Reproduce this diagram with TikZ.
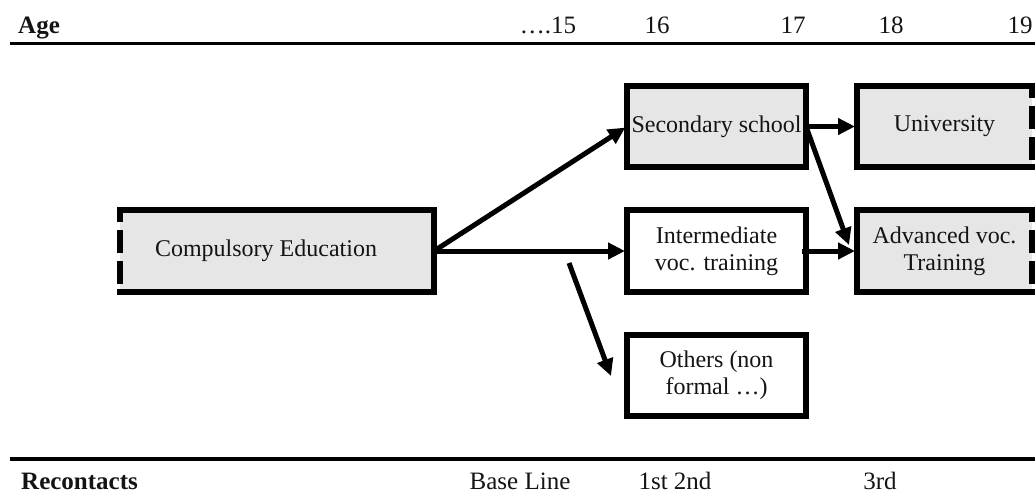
\documentclass[tikz,border=0pt]{standalone}
\usepackage{fontspec}
\setmainfont{Liberation Serif}
\usetikzlibrary{arrows.meta}
\definecolor{boxgray}{HTML}{E6E6E6}
\definecolor{ink}{HTML}{141414}
\begin{document}
\begin{tikzpicture}[x=1pt,y=-1pt,
  box/.style={rectangle, draw=none, inner sep=0pt, outer sep=0pt, align=center,
    font=\fontsize{24}{27}\selectfont, text=ink},
  graybox/.style={box, fill=boxgray},
  whitebox/.style={box, fill=white},
  solidside/.style={line width=6pt, line cap=rect, line join=miter},
  dashside/.style={line width=6pt, dash pattern=on 23pt off 8pt, dash phase=11pt},
  conn/.style={line width=5pt, -{Triangle[length=17pt,width=16pt]}},
  rulebar/.style={line width=3.5pt},
  hdr/.style={inner sep=0pt, font=\fontsize{25}{30}\selectfont, text=ink},
  hdrbold/.style={hdr, font=\fontsize{25}{30}\selectfont\bfseries},
]
\useasboundingbox[fill=white] (0,0) rectangle (1035,493);

% header / footer
\coordinate (topL) at (10,43.5);
\coordinate (topR) at (1035,43.5);
\coordinate (botL) at (10,459);
\coordinate (botR) at (1035,459);
\draw[rulebar] (topL) -- (topR);
\draw[rulebar] (botL) -- (botR);

\node[hdrbold, anchor=base west] (age) at (18,33) {Age};
\node[hdr, anchor=base] (a15) at (548,33) {….15};
\node[hdr, anchor=base] (a16) at (657,33) {16};
\node[hdr, anchor=base] (a17) at (793,33) {17};
\node[hdr, anchor=base] (a18) at (891,33) {18};
\node[hdr, anchor=base] (a19) at (1020,33) {19};

\node[hdrbold, anchor=base west] (recon) at (21,489) {Recontacts};
\node[hdr, anchor=base] (base) at (520,489) {Base Line};
\node[hdr, anchor=base] (r12) at (675,489) {1st 2nd};
\node[hdr, anchor=base] (r3) at (880,489) {3rd};

% boxes
\node[graybox, minimum width=314pt, minimum height=82pt] (comp) at (277,251)
  {\hspace*{-22pt}Compulsory Education};
\node[graybox, minimum width=179pt, minimum height=81pt] (sec) at (716.5,126.5)
  {Secondary school};
\node[graybox, minimum width=175pt, minimum height=81pt] (uni) at (944.5,126.5)
  {University};
\node[whitebox, minimum width=179pt, minimum height=82pt] (inter) at (716.5,251)
  {Intermediate\\voc. training};
\node[graybox, minimum width=175pt, minimum height=82pt] (adv) at (944.5,251)
  {Advanced voc.\\Training};
\node[whitebox, minimum width=179pt, minimum height=81pt] (oth) at (716.5,375)
  {Others (non\\formal …)};

% borders
\draw[solidside] (comp.north west) -- (comp.north east) -- (comp.south east) -- (comp.south west);
\draw[dashside] (comp.north west) -- (comp.south west);
\draw[solidside] (uni.north east) -- (uni.north west) -- (uni.south west) -- (uni.south east);
\draw[dashside] (uni.north east) -- (uni.south east);
\draw[solidside] (adv.north east) -- (adv.north west) -- (adv.south west) -- (adv.south east);
\draw[dashside] (adv.north east) -- (adv.south east);
\draw[solidside] (sec.north west) rectangle (sec.south east);
\draw[solidside] (inter.north west) rectangle (inter.south east);
\draw[solidside] (oth.north west) rectangle (oth.south east);

% connectors
\coordinate (split) at (569,263);
\coordinate (othend) at (611,376);
\draw[conn, shorten >=2pt] (comp.east) -- (sec.west);
\draw[conn, shorten >=2pt] (comp.east) -- (inter.west);
\draw[conn] (split) -- (othend);
\draw[conn, shorten >=2pt] (sec.east) -- (uni.west);
\draw[conn] (sec.east) -- ([xshift=-8pt,yshift=6pt]adv.west);
\draw[conn, shorten >=2pt] ([xshift=-4pt]inter.east) -- (adv.west);
\end{tikzpicture}
\end{document}
